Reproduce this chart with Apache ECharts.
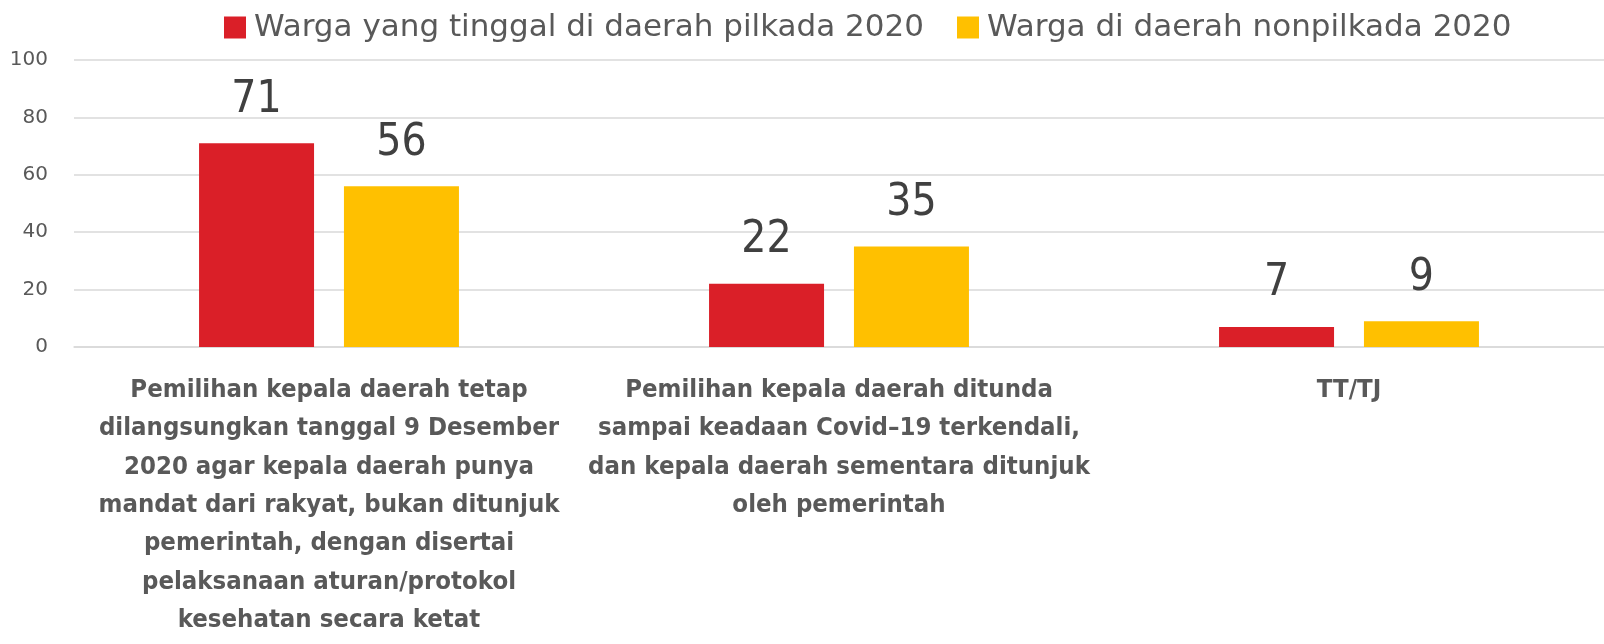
<!DOCTYPE html>
<html>
<head>
<meta charset="utf-8">
<script src="https://cdn.jsdelivr.net/npm/echarts@6/dist/echarts.min.js"></script>
<style>
  html, body { margin: 0; padding: 0; background: #fff; }
  #chart { width: 1604px; height: 644px; }
</style>
</head>
<body>
<div id="chart"></div>
<script>
  // kategori jawaban (baris dipatah seperti di grafik asli)
  var categories = [
    "Pemilihan kepala daerah tetap\ndilangsungkan tanggal 9 Desember\n2020 agar kepala daerah punya\nmandat dari rakyat, bukan ditunjuk\npemerintah, dengan disertai\npelaksanaan aturan/protokol\nkesehatan secara ketat",
    "Pemilihan kepala daerah ditunda\nsampai keadaan Covid–19 terkendali,\ndan kepala daerah sementara ditunjuk\noleh pemerintah",
    "TT/TJ"
  ];
  var seriesNames = ["Warga yang tinggal di daerah pilkada 2020", "Warga di daerah nonpilkada 2020"];
  var pilkada = [71, 22, 7];
  var nonpilkada = [56, 35, 9];
  var yTicks = [0, 20, 40, 60, 80, 100];

  var FONT = "'DejaVu Sans', sans-serif";
  var FONT_NARROW = "'DejaVu Sans Condensed', 'DejaVu Sans', sans-serif";
  var GRID_COLOR = "#d9d9d9";

  function barSeries(name, data, color) {
    return {
      name: name,
      type: "bar",
      data: data,
      barWidth: 115,
      barGap: "26%",
      itemStyle: { color: color },
      label: {
        show: true,
        position: "top",
        distance: 21,
        color: "#404040",
        fontSize: 44,
        fontFamily: FONT_NARROW
      }
    };
  }

  var chart = echarts.init(document.getElementById("chart"));
  chart.setOption({
    animation: false,
    textStyle: { fontFamily: FONT },
    legend: {
      left: 219,
      top: 7,
      icon: "rect",
      itemWidth: 22,
      itemHeight: 22,
      itemGap: 33,
      textStyle: { color: "#595959", fontSize: 31, fontFamily: FONT, padding: [0, 0, 17, 3] },
      data: seriesNames
    },
    grid: { left: 74, right: 0, top: 60, bottom: 297, containLabel: false },
    xAxis: {
      type: "category",
      data: categories,
      axisLine: { show: true, lineStyle: { color: GRID_COLOR, width: 1.5 } },
      axisTick: { show: false },
      axisLabel: {
        interval: 0,
        margin: 24,
        color: "#595959",
        fontSize: 25.5,
        fontWeight: "bold",
        lineHeight: 38.4,
        fontFamily: FONT_NARROW,
        align: "center"
      }
    },
    yAxis: {
      type: "value",
      min: yTicks[0],
      max: yTicks[yTicks.length - 1],
      interval: yTicks[1] - yTicks[0],
      axisLine: { show: false },
      axisTick: { show: false },
      splitLine: { lineStyle: { color: GRID_COLOR, width: 1.5 } },
      axisLabel: { color: "#595959", fontSize: 20, margin: 26, fontFamily: FONT, padding: [0, 0, 6, 0] }
    },
    series: [
      barSeries(seriesNames[0], pilkada, "#da1f28"),
      barSeries(seriesNames[1], nonpilkada, "#ffc000")
    ]
  });
</script>
</body>
</html>
